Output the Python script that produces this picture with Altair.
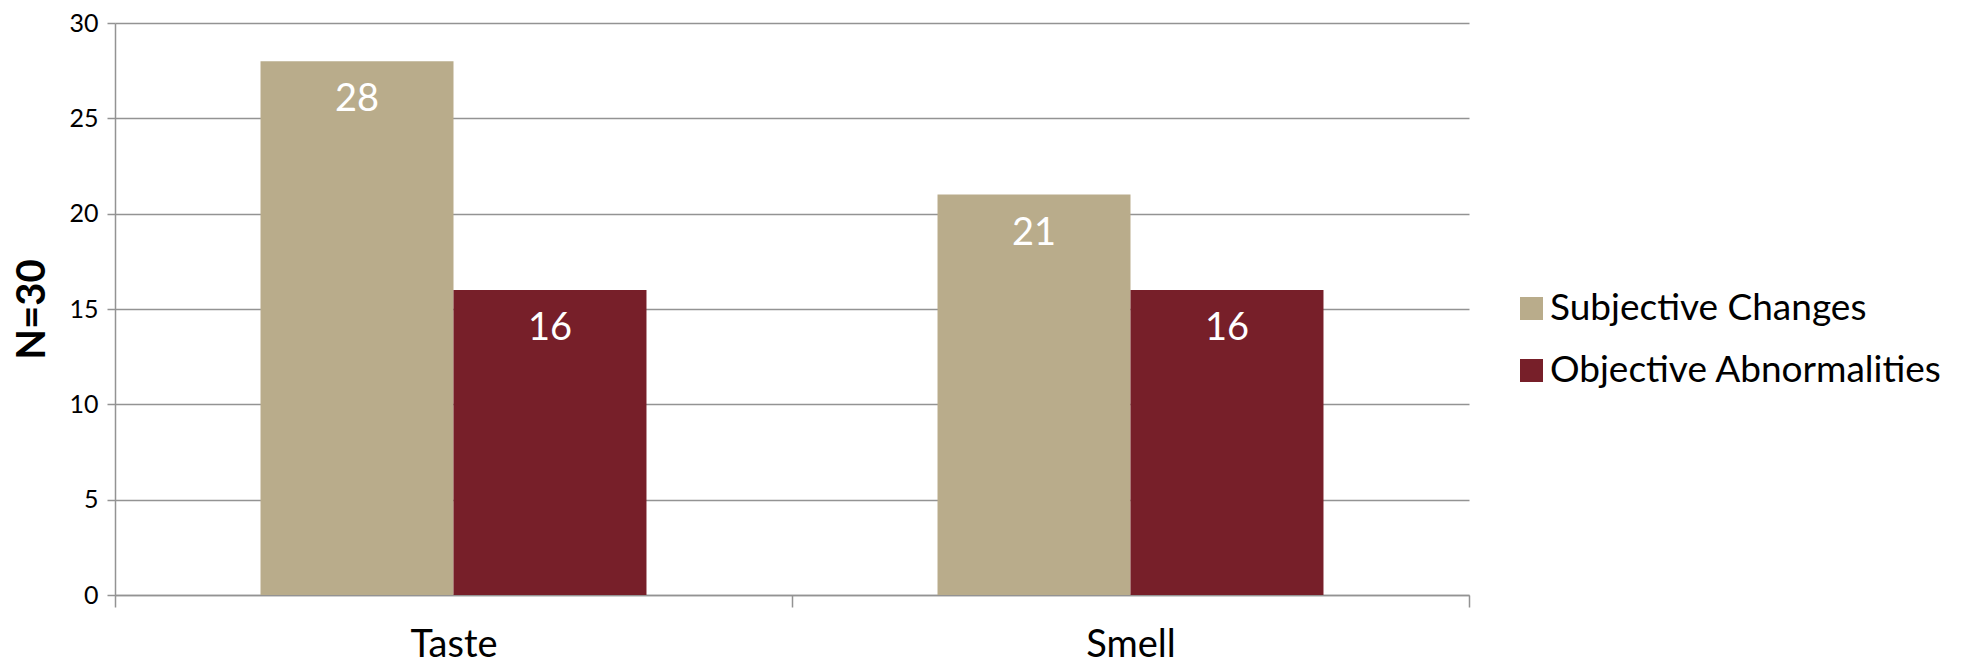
import altair as alt
import pandas as pd

# Chart data
categories = ["Taste", "Smell"]
series = ["Subjective Changes", "Objective Abnormalities"]
subjective = [28, 21]
objective = [16, 16]
colors = ["#B9AC8B", "#771F29"]

rows = []
for i, cat in enumerate(categories):
    rows.append({"category": cat, "series": series[0], "value": subjective[i]})
    rows.append({"category": cat, "series": series[1], "value": objective[i]})
df = pd.DataFrame(rows)

W, H = 1354, 572
FONT = "Lato"

# Each category fills half the width; bars sit centred inside it
x_scale = alt.Scale(paddingInner=0, paddingOuter=0)
off_scale = alt.Scale(paddingInner=0, paddingOuter=0.754)

x_enc = alt.X(
    "category:N",
    sort=categories,
    scale=x_scale,
    axis=alt.Axis(
        title=None,
        labelAngle=0,
        labelFont=FONT,
        labelFontSize=38,
        labelColor="#000000",
        labelPadding=19,
        tickBand="extent",
        tickSize=12,
        tickColor="#939393",
        tickWidth=1.5,
        domainColor="#939393",
        domainWidth=1.5,
    ),
)
xoff = alt.XOffset("series:N", sort=series, scale=off_scale)
y_enc = alt.Y(
    "value:Q",
    scale=alt.Scale(domain=[0, 30], nice=False),
    axis=alt.Axis(
        title="N=30",
        titleFont=FONT,
        titleFontSize=40,
        titleFontWeight="bold",
        titleColor="#000000",
        titleAngle=270,
        titleAlign="center",
        titleBaseline="middle",
        titleX=-83,
        titleY=H / 2,
        values=[0, 5, 10, 15, 20, 25, 30],
        labelFont=FONT,
        labelFontSize=25,
        labelColor="#000000",
        labelPadding=9,
        tickSize=8,
        tickColor="#939393",
        tickWidth=1.5,
        domainColor="#939393",
        domainWidth=1.5,
        grid=True,
        gridColor="#939393",
        gridWidth=1.5,
    ),
)

bars = alt.Chart(df).mark_bar().encode(
    x=x_enc,
    xOffset=xoff,
    y=y_enc,
    color=alt.Color(
        "series:N",
        sort=series,
        scale=alt.Scale(domain=series, range=colors),
        legend=alt.Legend(
            title=None,
            orient="none",
            legendX=1398,
            legendY=267,
            symbolType="square",
            symbolSize=529,
            symbolStrokeWidth=0,
            symbolOpacity=1,
            labelFont=FONT,
            labelFontSize=37,
            labelColor="#000000",
            labelOffset=0,
            rowPadding=24,
            labelLimit=600,
        ),
    ),
)

labels = alt.Chart(df).mark_text(
    font=FONT, fontSize=38, color="white", baseline="middle", align="center", dy=39
).encode(
    x=alt.X("category:N", sort=categories, scale=x_scale),
    xOffset=alt.XOffset("series:N", sort=series, scale=off_scale),
    y=alt.Y("value:Q"),
    text=alt.Text("value:Q"),
)

chart = (
    alt.layer(bars, labels)
    .properties(
        width=W,
        height=H,
        autosize=alt.AutoSizeParams(type="none"),
        padding={"left": 115, "top": 23, "right": 506, "bottom": 72},
        background="white",
    )
    .configure_view(stroke=None)
)

chart.save("out.html", embed_options={"renderer": "svg", "actions": False})
